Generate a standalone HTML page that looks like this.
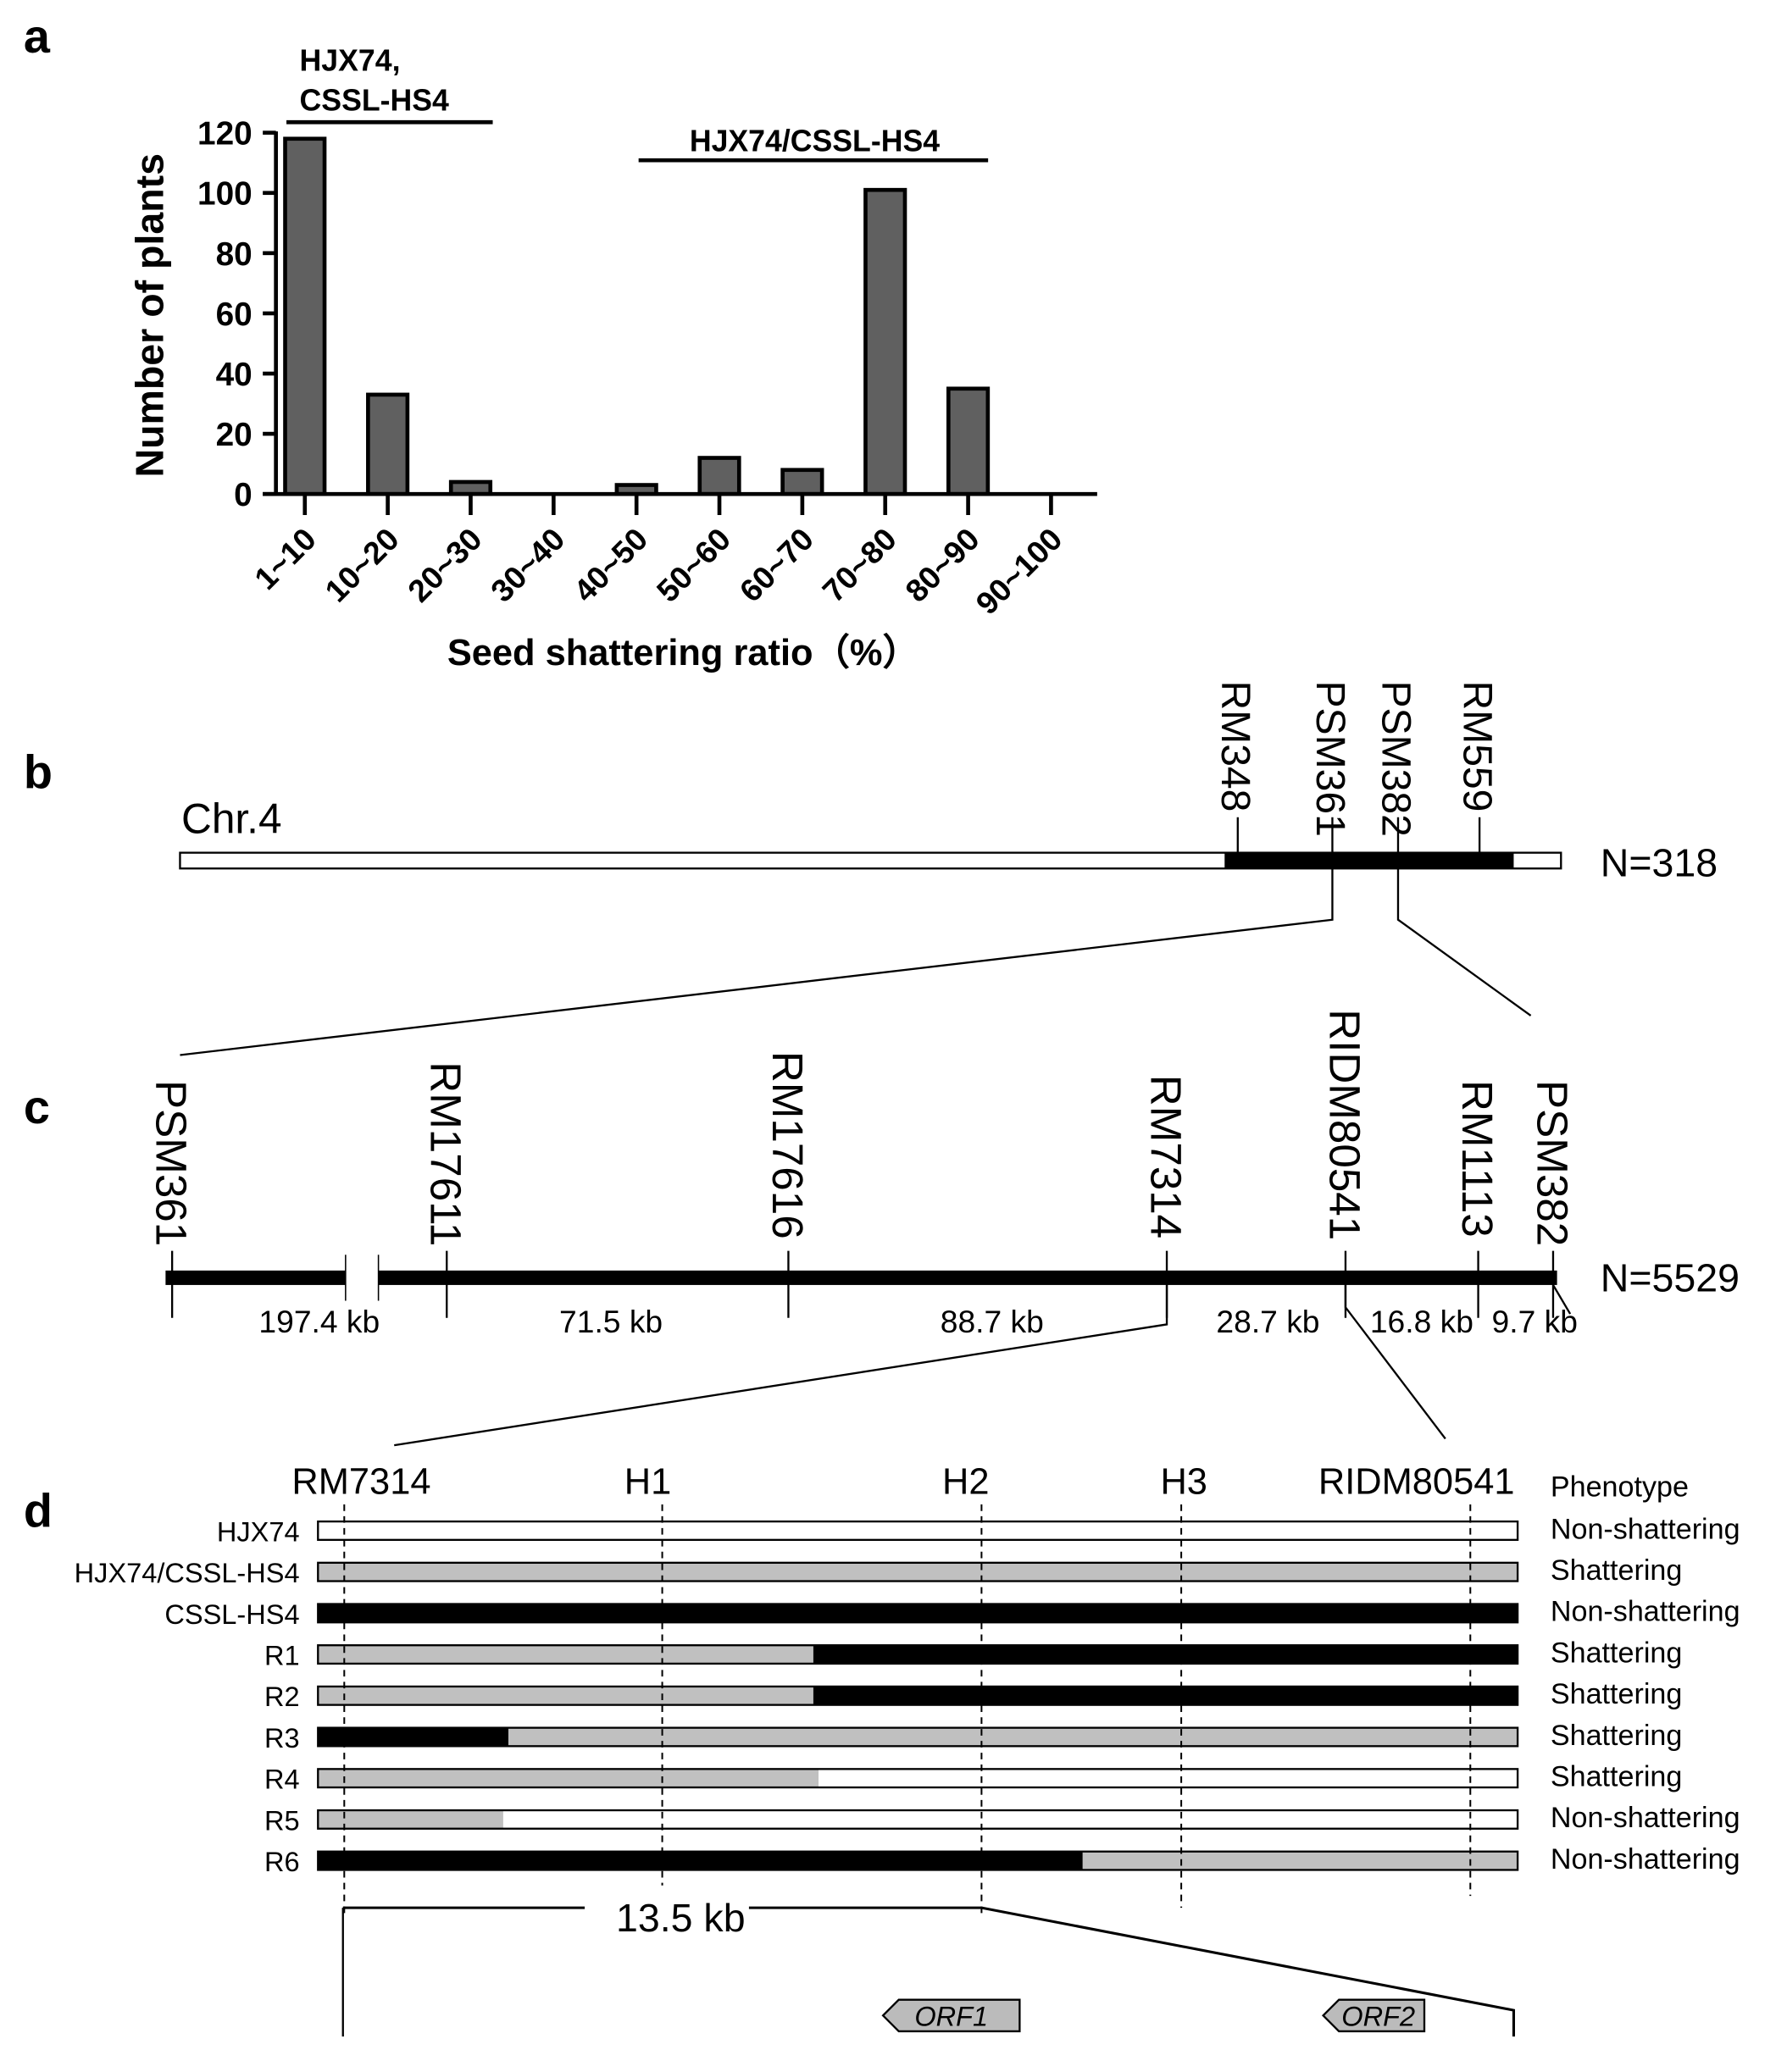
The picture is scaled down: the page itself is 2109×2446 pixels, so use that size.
<!DOCTYPE html>
<html><head><meta charset="utf-8"><style>
html,body{margin:0;padding:0;background:#fff;}
svg{display:block;}
text{font-family:"Liberation Sans",Arial,sans-serif;}
</style></head><body>
<svg id="fig" width="2109" height="2446" viewBox="0 0 1360 1577" preserveAspectRatio="none">
<g id="panelA">
<text x="18" y="40" font-size="36" font-weight="bold">a</text>
<text x="228" y="54" font-size="23" font-weight="bold">HJX74,</text>
<text x="228" y="84" font-size="23" font-weight="bold">CSSL-HS4</text>
<line x1="218" y1="93" x2="375" y2="93" stroke="#000" stroke-width="3"/>
<text x="620" y="115" font-size="23" font-weight="bold" text-anchor="middle">HJX74/CSSL-HS4</text>
<line x1="486" y1="122" x2="752" y2="122" stroke="#000" stroke-width="3"/>
<g id="bars"></g>
<line x1="210" y1="100" x2="210" y2="377" stroke="#000" stroke-width="3"/>
<line x1="200" y1="376" x2="835" y2="376" stroke="#000" stroke-width="3"/>
<g id="yticks"></g><g id="xticks"></g>
<text transform="translate(124,240) rotate(-90)" font-size="30" font-weight="bold" text-anchor="middle">Number of plants</text>
<text x="520" y="506" font-size="28" font-weight="bold" text-anchor="middle">Seed shattering ratio（%）</text>
</g>

<g id="panelB">
<text x="18" y="600" font-size="36" font-weight="bold">b</text>
<text x="138" y="634" font-size="32">Chr.4</text>
<rect x="137" y="649" width="1051" height="12" fill="#fff" stroke="#000" stroke-width="1.5"/>
<rect x="932" y="649" width="220" height="12" fill="#000"/>
<text x="1218" y="667" font-size="30">N=318</text>
<g id="bmarkers"></g>
<polyline points="1014,661 1014,700 137,803" fill="none" stroke="#000" stroke-width="1.5"/>
<polyline points="1064,661 1064,700 1165,773" fill="none" stroke="#000" stroke-width="1.5"/>
</g>

<g id="panelC">
<text x="18" y="855" font-size="36" font-weight="bold">c</text>
<rect x="126" y="967" width="1059" height="11" fill="#000"/>
<rect x="263" y="962" width="25" height="22" fill="#fff"/>
<line x1="263" y1="955" x2="263" y2="990" stroke="#000" stroke-width="1"/>
<line x1="288" y1="955" x2="288" y2="990" stroke="#000" stroke-width="1"/>
<text x="1218" y="983" font-size="30">N=5529</text>
<g id="cmarkers"></g>
<polyline points="888,978 888,1008 300,1100" fill="none" stroke="#000" stroke-width="1.5"/>
<polyline points="1024,978 1024,995 1100,1095" fill="none" stroke="#000" stroke-width="1.5"/>
<line x1="1182" y1="978" x2="1195" y2="1000" stroke="#000" stroke-width="1.5"/>
</g>

<g id="panelD">
<text x="18" y="1162" font-size="36" font-weight="bold">d</text>
<text x="1180" y="1139" font-size="22">Phenotype</text>
<g id="drows"></g>
<g id="dmarkers"></g>
<line x1="261" y1="1452" x2="261" y2="1550" stroke="#000" stroke-width="1.5"/>
<line x1="261" y1="1452" x2="445" y2="1452" stroke="#000" stroke-width="2"/>
<line x1="570" y1="1452" x2="747" y2="1452" stroke="#000" stroke-width="2"/>
<text x="518" y="1470" font-size="30" text-anchor="middle">13.5 kb</text>
<polyline points="747,1452 1152,1530 1152,1550" fill="none" stroke="#000" stroke-width="2"/>
<polygon points="672,1534 684,1522 776,1522 776,1546 684,1546" fill="#bbb" stroke="#000" stroke-width="1.5"/>
<text x="724" y="1542" font-size="21" font-style="italic" text-anchor="middle">ORF1</text>
<polygon points="1007,1534 1019,1522 1084,1522 1084,1546 1019,1546" fill="#bbb" stroke="#000" stroke-width="1.5"/>
<text x="1049" y="1542" font-size="21" font-style="italic" text-anchor="middle">ORF2</text>
</g>
</svg>
<script>
const categories=["1~10","10~20","20~30","30~40","40~50","50~60","60~70","70~80","80~90","90~100"];
const counts=[118,33,4,0,3,12,8,101,35,0];
const yTicks=[0,20,40,60,80,100,120];
const NS="http://www.w3.org/2000/svg";
function mk(tag,attrs,parent,txt){const e=document.createElementNS(NS,tag);for(const k in attrs)e.setAttribute(k,attrs[k]);if(txt!==undefined)e.textContent=txt;parent.appendChild(e);return e;}
const y=v=>376-v*(275/120);
const x=i=>232+i*63.1;
const bars=document.getElementById('bars');
counts.forEach((v,i)=>{if(v<=0)return;const r=mk('rect',{x:x(i)-15,y:y(v),width:30,height:376-y(v),fill:'#606060',stroke:'#000','stroke-width':3},bars);

});
const yt=document.getElementById('yticks');
yTicks.forEach(t=>{mk('line',{x1:200,y1:y(t),x2:210,y2:y(t),stroke:'#000','stroke-width':3},yt);
const tx=mk('text',{x:192,y:y(t)+9,'font-size':25,'font-weight':'bold','text-anchor':'end'},yt,String(t));

});
const xt=document.getElementById('xticks');
categories.forEach((c,i)=>{mk('line',{x1:x(i),y1:376,x2:x(i),y2:392,stroke:'#000','stroke-width':3},xt);
const tx=mk('text',{transform:`translate(${x(i)+10},${412}) rotate(-45)`,'font-size':24,'font-weight':'bold','text-anchor':'end'},xt,c);

});
// panel b markers
const bNames=["RM348","PSM361","PSM382","RM559"];const bPos=[942,1014,1064,1126];
const bm=document.getElementById('bmarkers');
bNames.forEach((n,i)=>{mk('line',{x1:bPos[i],y1:622,x2:bPos[i],y2:649,stroke:'#000','stroke-width':1.5},bm);
const t=mk('text',{transform:`translate(${bPos[i]-12},518) rotate(90)`,'font-size':31},bm,n);

});
// panel c
const cNames=["PSM361","RM17611","RM17616","RM7314","RIDM80541","RM1113","PSM382"];
const cPos=[131,340,600,888,1024,1125,1182];
const cTop=[822,808,800,818,768,822,822];
const cm=document.getElementById('cmarkers');
cNames.forEach((n,i)=>{mk('line',{x1:cPos[i],y1:952,x2:cPos[i],y2:1003,stroke:'#000','stroke-width':1.5},cm);
const t=mk('text',{transform:`translate(${cPos[i]-12},${cTop[i]}) rotate(90)`,'font-size':33},cm,n);

});
const kb=["197.4 kb","71.5 kb","88.7 kb","28.7 kb","16.8 kb","9.7 kb"];const kbX=[243,465,755,965,1082,1168];
kb.forEach((k,i)=>{const t=mk('text',{x:kbX[i],y:1014,'font-size':24,'text-anchor':'middle'},cm,k);

});
// panel d
const dm=document.getElementById('dmarkers');
const dNames=["RM7314","H1","H2","H3","RIDM80541"];const dLabX=[275,493,735,901,1078];const dLineX=[262,504,747,899,1119];const dEnd=[1460,1435,1460,1452,1443];
dNames.forEach((n,i)=>{const t=mk('text',{x:dLabX[i],y:1137,'font-size':28,'text-anchor':'middle'},dm,n);


mk('line',{x1:dLineX[i],y1:1145,x2:dLineX[i],y2:dEnd[i],stroke:'#000','stroke-width':1.3,'stroke-dasharray':'5,4'},dm);});
const lines=["HJX74","HJX74/CSSL-HS4","CSSL-HS4","R1","R2","R3","R4","R5","R6"];
const pheno=["Non-shattering","Shattering","Non-shattering","Shattering","Shattering","Shattering","Shattering","Non-shattering","Non-shattering"];
const C={w:'#fff',g:'#c0c0c0',b:'#000'};
const segs=[[['w',1155]],[['g',1155]],[['b',1155]],[['g',619],['b',1155]],[['g',619],['b',1155]],[['b',387],['g',1155]],[['g',623],['w',1155]],[['g',383],['w',1155]],[['b',824],['g',1155]]];
const dr=document.getElementById('drows');
lines.forEach((n,i)=>{const cy=1165+i*31.4;let x0=242;
const g=mk('g',{},dr);
segs[i].forEach(s=>{mk('rect',{x:x0,y:cy-7,width:s[1]-x0,height:14,fill:C[s[0]]},g);x0=s[1];});
mk('rect',{x:242,y:cy-7,width:913,height:14,fill:'none',stroke:'#000','stroke-width':1.5},g);
mk('text',{x:228,y:cy+8,'font-size':21,'text-anchor':'end'},g,n);
mk('text',{x:1180,y:cy+6,'font-size':22},g,pheno[i]);});
</script>
</body></html>
